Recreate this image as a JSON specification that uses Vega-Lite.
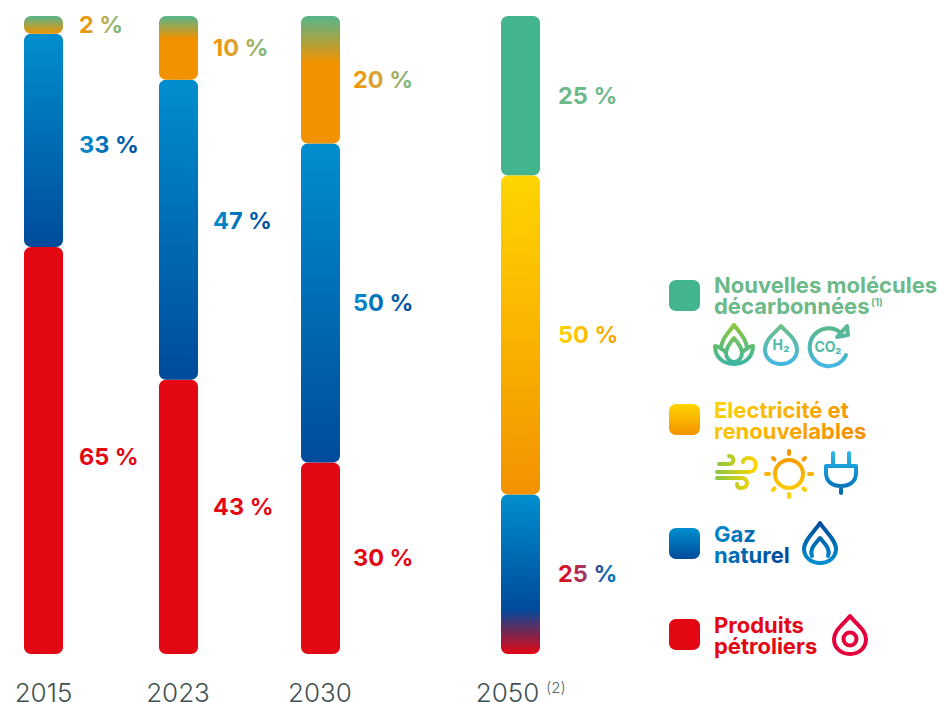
{
"$schema":"https://vega.github.io/schema/vega-lite/v6.json",
"autosize":"none","width":938,"height":638,
"padding":{"left":0,"top":16,"right":0,"bottom":48},
"background":"white",
"config":{"view":{"stroke":null}},
"datasets":{
"bars":[
{"year":2015,"series":"Produits pétroliers","label":"65 %","bar":63.8,"rank":1,"look":"red","labelLook":"red","labelAt":30.9},
{"year":2015,"series":"Gaz naturel","label":"33 %","bar":33.4,"rank":2,"look":"blue","labelLook":"blue","labelAt":79.8},
{"year":2015,"series":"Nouvelles molécules et électricité","label":"2 %","bar":2.8,"rank":3,"look":"top2015","labelLook":"orangeGreen","labelAt":98.6},
{"year":2023,"series":"Produits pétroliers","label":"43 %","bar":43,"rank":1,"look":"red","labelLook":"red","labelAt":23},
{"year":2023,"series":"Gaz naturel","label":"47 %","bar":47,"rank":2,"look":"blue","labelLook":"blue","labelAt":67.9},
{"year":2023,"series":"Nouvelles molécules et électricité","label":"10 %","bar":10,"rank":3,"look":"top2023","labelLook":"orangeGreen","labelAt":95},
{"year":2030,"series":"Produits pétroliers","label":"30 %","bar":30,"rank":1,"look":"red","labelLook":"red","labelAt":15},
{"year":2030,"series":"Gaz naturel","label":"50 %","bar":50,"rank":2,"look":"blue","labelLook":"blue","labelAt":55},
{"year":2030,"series":"Nouvelles molécules et électricité","label":"20 %","bar":20,"rank":3,"look":"top2030","labelLook":"orangeGreen","labelAt":90},
{"year":2050,"series":"Gaz naturel et produits pétroliers","label":"25 %","bar":25,"rank":1,"look":"blue2050","labelLook":"redBlue","labelAt":12.5},
{"year":2050,"series":"Electricité et renouvelables","label":"50 %","bar":50,"rank":2,"look":"yellowOrange","labelLook":"yellow","labelAt":50},
{"year":2050,"series":"Nouvelles molécules décarbonnées","label":"25 %","bar":25,"rank":3,"look":"green","labelLook":"green","labelAt":87.5}
],
"items":[
{"item":1,"look":"green","kind":"swatch"},{"item":2,"look":"yellowOrange","kind":"swatch"},{"item":3,"look":"blue","kind":"swatch"},{"item":4,"look":"red","kind":"swatch"},
{"item":5,"look":"green","kind":"name","text":"Nouvelles molécules\ndécarbonnées"},
{"item":6,"look":"yellow","kind":"name","text":"Electricité et\nrenouvelables"},
{"item":7,"look":"blue","kind":"name","text":"Gaz\nnaturel"},
{"item":8,"look":"red","kind":"name","text":"Produits\npétroliers"},
{"item":9,"kind":"leaf"},{"item":10,"kind":"h2","tag":"H₂"},{"item":11,"kind":"co2","tag":"CO₂"},
{"item":12,"kind":"wind"},{"item":13,"kind":"sun"},{"item":14,"kind":"plug"},
{"item":15,"kind":"flame"},{"item":16,"kind":"drop"},
{"item":17,"kind":"note1","text":"(1)"},{"item":18,"kind":"note2","text":"(2)"}
]
},
"resolve":{"scale":{"x":"independent","y":"independent"}},
"layer":[
{"data":{"name":"bars"},
 "mark":{"type":"point","opacity":0},
 "encoding":{
  "x":{"field":"year","type":"quantitative","scale":{"domain":[2015,2023,2030,2050],"range":[43,177.5,319.5,507],"zero":false,"nice":false,"padding":0},
   "axis":{"values":[2015,2023,2030,2050],"format":"d","title":null,"grid":false,"domain":false,"ticks":false,"labelFont":"Inter","labelFontWeight":300,"labelFontSize":26,"labelColor":"#3f5254","labelPadding":26,"labelFlush":false,"labelOverlap":false}},
  "y":{"field":"labelAt","type":"quantitative","scale":{"domain":[0,100],"nice":false,"zero":true,"padding":0},"axis":null}
 }},
{"data":{"name":"bars"},
 "transform":[{"stack":"bar","groupby":["year"],"sort":[{"field":"rank","order":"ascending"}],"as":["y0","y1"]}],
 "encoding":{
  "x":{"field":"year","type":"quantitative","axis":null,"scale":{"domain":[2015,2023,2030,2050],"range":[43.5,178.5,320.5,520.5],"zero":false,"nice":false,"padding":0}},
  "y":{"field":"y1","type":"quantitative","scale":{"domain":[0,100],"nice":false,"zero":true,"padding":0},"axis":null},
  "y2":{"field":"y0"}
 },
 "layer":[
  {"transform":[{"filter":"datum.look==='red'"}],"mark":{"type":"bar","size":39,"cornerRadius":7,"orient":"vertical","fill":"#e30613"}},
  {"transform":[{"filter":"datum.look==='blue'"}],"mark":{"type":"bar","size":39,"cornerRadius":7,"orient":"vertical","fill":{"gradient":"linear","x1":0,"y1":0,"x2":0,"y2":1,"stops":[{"offset":0,"color":"#008ecf"},{"offset":1,"color":"#004b9b"}]}}},
  {"transform":[{"filter":"datum.look==='blue2050'"}],"mark":{"type":"bar","size":39,"cornerRadius":7,"orient":"vertical","fill":{"gradient":"linear","x1":0,"y1":0,"x2":0,"y2":1,"stops":[{"offset":0,"color":"#008ecf"},{"offset":0.72,"color":"#004b9b"},{"offset":1,"color":"#e30613"}]}}},
  {"transform":[{"filter":"datum.look==='green'"}],"mark":{"type":"bar","size":39,"cornerRadius":7,"orient":"vertical","fill":"#43b58e"}},
  {"transform":[{"filter":"datum.look==='yellowOrange'"}],"mark":{"type":"bar","size":39,"cornerRadius":7,"orient":"vertical","fill":{"gradient":"linear","x1":0,"y1":0,"x2":0,"y2":1,"stops":[{"offset":0,"color":"#ffd500"},{"offset":1,"color":"#f39200"}]}}},
  {"transform":[{"filter":"datum.look==='top2015'"}],"mark":{"type":"bar","size":39,"cornerRadius":7,"orient":"vertical","fill":{"gradient":"linear","x1":0,"y1":0,"x2":0,"y2":1,"stops":[{"offset":0,"color":"#56b58c"},{"offset":1,"color":"#f39200"}]}}},
  {"transform":[{"filter":"datum.look==='top2023'"}],"mark":{"type":"bar","size":39,"cornerRadius":7,"orient":"vertical","fill":{"gradient":"linear","x1":0,"y1":0,"x2":0,"y2":1,"stops":[{"offset":0,"color":"#56b58c"},{"offset":0.36,"color":"#f39200"},{"offset":1,"color":"#f39200"}]}}},
  {"transform":[{"filter":"datum.look==='top2030'"}],"mark":{"type":"bar","size":39,"cornerRadius":7,"orient":"vertical","fill":{"gradient":"linear","x1":0,"y1":0,"x2":0,"y2":1,"stops":[{"offset":0,"color":"#56b58c"},{"offset":0.37,"color":"#f39200"},{"offset":1,"color":"#f39200"}]}}}
 ]},
{"data":{"name":"bars"},
 "encoding":{
  "x":{"field":"year","type":"quantitative","axis":null,"scale":{"domain":[2015,2023,2030,2050],"range":[79,213,353,558],"zero":false,"nice":false,"padding":0}},
  "y":{"field":"labelAt","type":"quantitative","axis":null,"scale":{"domain":[0,100],"nice":false,"zero":true,"padding":0}},
  "text":{"field":"label"}
 },
 "layer":[
  {"transform":[{"filter":"datum.labelLook==='red'"}],"mark":{"type":"text","align":"left","baseline":"middle","dy":1,"font":"Inter","fontWeight":700,"fontSize":23.5,"fill":"#e30613"}},
  {"transform":[{"filter":"datum.labelLook==='blue'"}],"mark":{"type":"text","align":"left","baseline":"middle","dy":1,"font":"Inter","fontWeight":700,"fontSize":23.5,"fill":{"gradient":"linear","x1":0,"y1":0,"x2":1,"y2":0,"stops":[{"offset":0,"color":"#008ecf"},{"offset":1,"color":"#004b9b"}]}}},
  {"transform":[{"filter":"datum.labelLook==='green'"}],"mark":{"type":"text","align":"left","baseline":"middle","dy":1,"font":"Inter","fontWeight":700,"fontSize":23.5,"fill":"#6cb98a"}},
  {"transform":[{"filter":"datum.labelLook==='yellow'"}],"mark":{"type":"text","align":"left","baseline":"middle","dy":1,"font":"Inter","fontWeight":700,"fontSize":23.5,"fill":{"gradient":"linear","x1":0,"y1":0,"x2":1,"y2":0,"stops":[{"offset":0,"color":"#ffd500"},{"offset":1,"color":"#f5a000"}]}}},
  {"transform":[{"filter":"datum.labelLook==='orangeGreen'"}],"mark":{"type":"text","align":"left","baseline":"middle","dy":1,"font":"Inter","fontWeight":700,"fontSize":23.5,"fill":{"gradient":"linear","x1":0,"y1":0,"x2":1,"y2":0,"stops":[{"offset":0,"color":"#f39200"},{"offset":0.45,"color":"#d4a63c"},{"offset":1,"color":"#6cb98a"}]}}},
  {"transform":[{"filter":"datum.labelLook==='redBlue'"}],"mark":{"type":"text","align":"left","baseline":"middle","dy":1,"font":"Inter","fontWeight":700,"fontSize":23.5,"fill":{"gradient":"linear","x1":0,"y1":0,"x2":1,"y2":0,"stops":[{"offset":0,"color":"#e30613"},{"offset":0.45,"color":"#a03a66"},{"offset":0.7,"color":"#24509e"},{"offset":1,"color":"#0080c8"}]}}}
 ]},
{"data":{"name":"items"},
 "encoding":{
  "x":{"field":"item","type":"quantitative","axis":null,"scale":{"domain":[1,2,3,4,5,6,7,8,9,10,11,12,13,14,15,16,17,18],"range":[684.5,684.5,684.5,684.5,714,714,714,714,734,781,828,737,789,841,820,850,871,546],"zero":false,"nice":false,"padding":0}},
  "y":{"field":"item","type":"quantitative","axis":null,"scale":{"domain":[1,2,3,4,5,6,7,8,9,10,11,12,13,14,15,16,17,18],"range":[279.5,403.5,527.5,618.5,270,395,519,610,329,329,331,456,458,457,527,619,287,672],"zero":false,"nice":false,"padding":0}}
 },
 "layer":[
  {"transform":[{"filter":"datum.kind==='swatch'&&datum.look==='green'"}],"mark":{"type":"point","filled":true,"opacity":1,"size":4,"shape":"M-8.5 -15.5 H8.5 A7 7 0 0 1 15.5 -8.5 V8.5 A7 7 0 0 1 8.5 15.5 H-8.5 A7 7 0 0 1 -15.5 8.5 V-8.5 A7 7 0 0 1 -8.5 -15.5 Z","fill":"#43b58e"}},
  {"transform":[{"filter":"datum.kind==='swatch'&&datum.look==='yellowOrange'"}],"mark":{"type":"point","filled":true,"opacity":1,"size":4,"shape":"M-8.5 -15.5 H8.5 A7 7 0 0 1 15.5 -8.5 V8.5 A7 7 0 0 1 8.5 15.5 H-8.5 A7 7 0 0 1 -15.5 8.5 V-8.5 A7 7 0 0 1 -8.5 -15.5 Z","fill":{"gradient":"linear","x1":0,"y1":0,"x2":0,"y2":1,"stops":[{"offset":0,"color":"#ffd500"},{"offset":1,"color":"#f39200"}]}}},
  {"transform":[{"filter":"datum.kind==='swatch'&&datum.look==='blue'"}],"mark":{"type":"point","filled":true,"opacity":1,"size":4,"shape":"M-8.5 -15.5 H8.5 A7 7 0 0 1 15.5 -8.5 V8.5 A7 7 0 0 1 8.5 15.5 H-8.5 A7 7 0 0 1 -15.5 8.5 V-8.5 A7 7 0 0 1 -8.5 -15.5 Z","fill":{"gradient":"linear","x1":0,"y1":0,"x2":0,"y2":1,"stops":[{"offset":0,"color":"#008ecf"},{"offset":1,"color":"#004b9b"}]}}},
  {"transform":[{"filter":"datum.kind==='swatch'&&datum.look==='red'"}],"mark":{"type":"point","filled":true,"opacity":1,"size":4,"shape":"M-8.5 -15.5 H8.5 A7 7 0 0 1 15.5 -8.5 V8.5 A7 7 0 0 1 8.5 15.5 H-8.5 A7 7 0 0 1 -15.5 8.5 V-8.5 A7 7 0 0 1 -8.5 -15.5 Z","fill":"#e30613"}},
  {"transform":[{"filter":"datum.kind==='name'&&datum.look==='green'"}],"mark":{"type":"text","align":"left","baseline":"middle","font":"Inter","fontWeight":700,"fontSize":22,"lineBreak":"\n","lineHeight":21,"fill":"#6cb98a"},"encoding":{"text":{"field":"text"}}},
  {"transform":[{"filter":"datum.kind==='name'&&datum.look==='yellow'"}],"mark":{"type":"text","align":"left","baseline":"middle","font":"Inter","fontWeight":700,"fontSize":22,"lineBreak":"\n","lineHeight":21,"fill":{"gradient":"linear","x1":0,"y1":0,"x2":1,"y2":0.3,"stops":[{"offset":0,"color":"#ffd500"},{"offset":1,"color":"#f39200"}]}},"encoding":{"text":{"field":"text"}}},
  {"transform":[{"filter":"datum.kind==='name'&&datum.look==='blue'"}],"mark":{"type":"text","align":"left","baseline":"middle","font":"Inter","fontWeight":700,"fontSize":22,"lineBreak":"\n","lineHeight":21,"fill":{"gradient":"linear","x1":0,"y1":0,"x2":1,"y2":0.5,"stops":[{"offset":0,"color":"#008ecf"},{"offset":1,"color":"#004b9b"}]}},"encoding":{"text":{"field":"text"}}},
  {"transform":[{"filter":"datum.kind==='name'&&datum.look==='red'"}],"mark":{"type":"text","align":"left","baseline":"middle","font":"Inter","fontWeight":700,"fontSize":22,"lineBreak":"\n","lineHeight":21,"fill":"#e30613"},"encoding":{"text":{"field":"text"}}},
  {"transform":[{"filter":"datum.kind==='leaf'"}],"mark":{"type":"point","filled":false,"opacity":1,"size":4,"strokeWidth":4,"strokeCap":"round","strokeJoin":"round","shape":"M0 -20 C-8 -10 -13 -4 -13 4 M0 -20 C8 -10 13 -4 13 4 M0 -7 C-6 0 -8 4 -8 8 C-8 13 -4 17 0 17 C4 17 8 13 8 8 C8 4 6 0 0 -7 Z M-8 8 C-10 5 -14 2 -19 1 C-19 12 -11 19 0 19 C11 19 19 12 19 1 C14 2 10 5 8 8","stroke":{"gradient":"linear","x1":0,"y1":0,"x2":0,"y2":1,"stops":[{"offset":0,"color":"#8cc63f"},{"offset":1,"color":"#3db5a0"}]}}},
  {"transform":[{"filter":"datum.kind==='h2'"}],"mark":{"type":"point","filled":false,"opacity":1,"size":4,"strokeWidth":4,"strokeCap":"round","strokeJoin":"round","shape":"M0 -19 C-6 -12 -16 -6 -16 5 C-16 13 -9 19 0 19 C9 19 16 13 16 5 C16 -6 6 -12 0 -19 Z","stroke":{"gradient":"linear","x1":0,"y1":0,"x2":0,"y2":1,"stops":[{"offset":0,"color":"#6cbf8a"},{"offset":1,"color":"#45b7e0"}]}}},
  {"transform":[{"filter":"datum.kind==='co2'"}],"mark":{"type":"point","filled":false,"opacity":1,"size":4,"strokeWidth":4,"strokeCap":"round","strokeJoin":"round","shape":"M12 -15 A19 19 0 1 0 18 8 M20 -12 L9 -10 L19 -21 Z","stroke":{"gradient":"linear","x1":0,"y1":0,"x2":0,"y2":1,"stops":[{"offset":0,"color":"#5cb88c"},{"offset":1,"color":"#45b7e0"}]}}},
  {"transform":[{"filter":"datum.kind==='wind'"}],"mark":{"type":"point","filled":false,"opacity":1,"size":4,"strokeWidth":4,"strokeCap":"round","strokeJoin":"round","shape":"M-18 -8 L-8 -8 C-2 -8 -2 -16 -8 -16 M-20 0 L12 0 C21 0 21 -14 12 -14 C8 -14 6 -12 6 -10 M-20 6 L4 6 C12 6 12 16 4 16 C0 16 0 14 0 12","stroke":{"gradient":"linear","x1":0,"y1":0,"x2":1,"y2":0,"stops":[{"offset":0,"color":"#8cc63f"},{"offset":1,"color":"#ffd500"}]}}},
  {"transform":[{"filter":"datum.kind==='sun'"}],"mark":{"type":"point","filled":false,"opacity":1,"size":4,"strokeWidth":4,"strokeCap":"round","strokeJoin":"round","shape":"M-14 0 A14 14 0 1 1 14 0 A14 14 0 1 1 -14 0 Z M0 -23 L0 -20 M0 23 L0 20 M-23 0 L-20 0 M23 0 L20 0 M-16 -16 L-14.5 -14.5 M16 -16 L14.5 -14.5 M-16 16 L-14.5 14.5 M16 16 L14.5 14.5","stroke":{"gradient":"linear","x1":0,"y1":0,"x2":0,"y2":1,"stops":[{"offset":0,"color":"#f39200"},{"offset":1,"color":"#ffd500"}]}}},
  {"transform":[{"filter":"datum.kind==='plug'"}],"mark":{"type":"point","filled":false,"opacity":1,"size":4,"strokeWidth":4,"strokeCap":"round","strokeJoin":"round","shape":"M-8 -20 L-8 -7 M8 -20 L8 -7 M-15 -7 L15 -7 L15 0 C15 9 8 13 0 13 C-8 13 -15 9 -15 0 Z M0 13 L0 20","stroke":{"gradient":"linear","x1":0,"y1":0,"x2":0,"y2":1,"stops":[{"offset":0,"color":"#29b6e8"},{"offset":1,"color":"#0069b4"}]}}},
  {"transform":[{"filter":"datum.kind==='flame'"}],"mark":{"type":"point","filled":false,"opacity":1,"size":4,"strokeWidth":4,"strokeCap":"round","strokeJoin":"round","shape":"M0 -20 C-5 -12 -16 -3 -16 6 C-16 14 -9 20 0 20 C9 20 16 14 16 6 C16 -3 5 -12 0 -20 Z M-8 13 C-11 6 -4 0 0 -5 C4 0 11 6 8 13","stroke":{"gradient":"linear","x1":0,"y1":0,"x2":0,"y2":1,"stops":[{"offset":0,"color":"#004b9b"},{"offset":1,"color":"#008ecf"}]}}},
  {"transform":[{"filter":"datum.kind==='drop'"}],"mark":{"type":"point","filled":false,"opacity":1,"size":4,"strokeWidth":4,"strokeCap":"round","strokeJoin":"round","shape":"M0 -19 C-6 -11 -16 -5 -16 4 C-16 13 -9 19 0 19 C9 19 16 13 16 4 C16 -5 6 -11 0 -19 Z M-6.5 4 A6.5 6.5 0 1 1 6.5 4 A6.5 6.5 0 1 1 -6.5 4 Z","stroke":"#e4003a"}},
  {"transform":[{"filter":"datum.tag"}],"mark":{"type":"text","align":"center","baseline":"middle","dy":1,"font":"Inter","fontWeight":700,"fontSize":14,"fill":"#4dbba6"},"encoding":{"text":{"field":"tag"}}},
  {"transform":[{"filter":"datum.kind==='note1'"}],"mark":{"type":"text","align":"left","baseline":"middle","font":"Inter","fontWeight":700,"fontSize":10,"fill":"#6cb98a"},"encoding":{"text":{"field":"text"}}},
  {"transform":[{"filter":"datum.kind==='note2'"}],"mark":{"type":"text","align":"left","baseline":"middle","font":"Inter","fontWeight":300,"fontSize":15,"fill":"#5a6b6d"},"encoding":{"text":{"field":"text"}}}
 ]}
]}
